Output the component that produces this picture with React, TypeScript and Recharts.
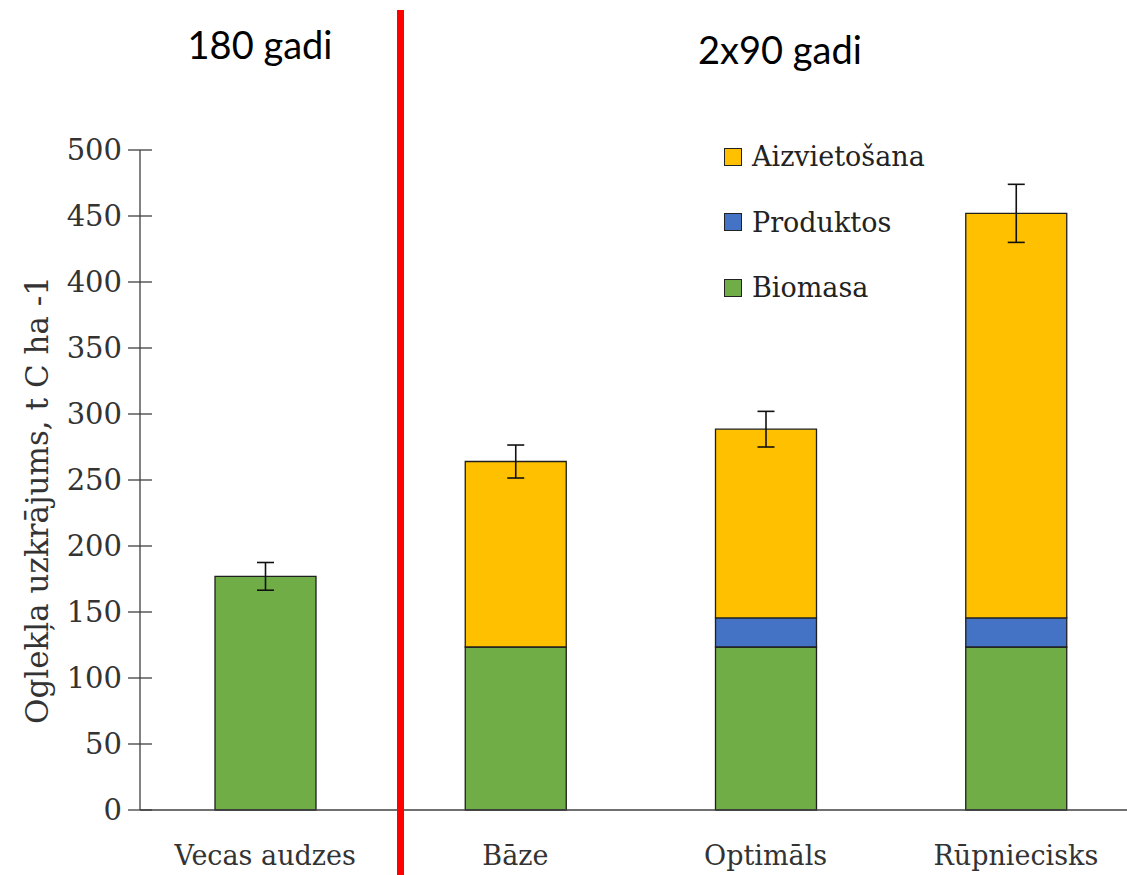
import { Bar, BarChart, ErrorBar, XAxis, YAxis } from 'recharts'

const categories = ['Vecas audzes', 'Bāze', 'Optimāls', 'Rūpniecisks']
const biomasa = [177, 123.5, 123.5, 123.5]
const produktos = [0, 0, 22, 22]
const aizvietosana = [0, 140.5, 143, 306.5]
// error bars: the first bar has only biomass, the rest end at aizvietošana
const biomasaKluda = [10.5, null, null, null]
const aizvKluda = [null, 12.5, 13.5, 22]
const yTicks = [0, 50, 100, 150, 200, 250, 300, 350, 400, 450, 500]

const series = [
  { key: 'aizvietosana', name: 'Aizvietošana', color: '#FFC000' },
  { key: 'produktos', name: 'Produktos', color: '#4472C4' },
  { key: 'biomasa', name: 'Biomasa', color: '#70AD47' },
]

const data = categories.map((name, i) => ({
  name,
  biomasa: biomasa[i],
  produktos: produktos[i],
  aizvietosana: aizvietosana[i],
  biomasaKluda: biomasaKluda[i],
  aizvKluda: aizvKluda[i],
}))

const SERIF = '"DejaVu Serif", serif'
const AXIS = '#404040'
const EDGE = '#1f1f1f'

function YTick(props: any) {
  const { x, y, payload } = props
  return (
    <g>
      <line x1={x - 12} x2={x + 12} y1={y} y2={y} stroke={AXIS} strokeWidth={1.3} />
      <text
        x={x - 18}
        y={y}
        dy="0.36em"
        textAnchor="end"
        fontFamily={SERIF}
        fontSize={29}
        fill="#333"
      >
        {payload.value}
      </text>
    </g>
  )
}

function colorOf(key: string) {
  return series.find((s) => s.key === key)!.color
}

export default function App() {
  return (
    <div
      style={{
        position: 'absolute',
        left: 0,
        top: 0,
        width: 1127,
        height: 875,
        overflow: 'hidden',
        background: '#fff',
      }}
    >
      <BarChart
        width={1141}
        height={875}
        data={data}
        margin={{ top: 150, right: 0, bottom: 0, left: 0 }}
        barSize={101}
      >
        <XAxis
          dataKey="name"
          height={65}
          tickLine={false}
          tickSize={0}
          tickMargin={36}
          axisLine={{ stroke: AXIS, strokeWidth: 1.3 }}
          tick={{ fontFamily: SERIF, fontSize: 27, fill: '#333' }}
        />
        <YAxis
          width={140}
          domain={[0, 500]}
          ticks={yTicks}
          interval={0}
          tickLine={false}
          tickSize={0}
          tickMargin={0}
          axisLine={{ stroke: AXIS, strokeWidth: 1.3 }}
          tick={<YTick />}
          label={() => (
            <text
              x={37}
              y={500}
              transform="rotate(-90 37 500)"
              textAnchor="middle"
              dominantBaseline="central"
              fontFamily={SERIF}
              fontSize={31}
              fill="#333"
            >
              Oglekļa uzkrājums, t C ha -1
            </text>
          )}
        />
        <Bar
          dataKey="biomasa"
          name="Biomasa"
          stackId="a"
          fill={colorOf('biomasa')}
          stroke={EDGE}
          strokeWidth={1.3}
          isAnimationActive={false}
        >
          <ErrorBar
            dataKey="biomasaKluda"
            width={8.5}
            stroke="#111"
            strokeWidth={1.6}
            isAnimationActive={false}
          />
        </Bar>
        <Bar
          dataKey="produktos"
          name="Produktos"
          stackId="a"
          fill={colorOf('produktos')}
          stroke={EDGE}
          strokeWidth={1.3}
          isAnimationActive={false}
        />
        <Bar
          dataKey="aizvietosana"
          name="Aizvietošana"
          stackId="a"
          fill={colorOf('aizvietosana')}
          stroke={EDGE}
          strokeWidth={1.3}
          isAnimationActive={false}
        >
          <ErrorBar
            dataKey="aizvKluda"
            width={8.5}
            stroke="#111"
            strokeWidth={1.6}
            isAnimationActive={false}
          />
        </Bar>
      </BarChart>

      {/* legend, same order as the reference */}
      <div
        style={{
          position: 'absolute',
          left: 724,
          top: 124,
          fontFamily: SERIF,
          fontSize: 27,
          color: '#222',
        }}
      >
        {series.map((s) => (
          <div
            key={s.key}
            style={{ display: 'flex', alignItems: 'center', height: 65.5 }}
          >
            <span
              style={{
                display: 'inline-block',
                width: 16,
                height: 16,
                background: s.color,
                border: '1.2px solid #222',
                marginRight: 10,
              }}
            />
            {s.name}
          </div>
        ))}
      </div>

      <div
        style={{
          position: 'absolute',
          left: 397,
          top: 10,
          width: 7,
          height: 865,
          background: '#ff0000',
        }}
      />
      <div
        style={{
          position: 'absolute',
          left: 160,
          top: 22,
          width: 200,
          textAlign: 'center',
          fontFamily: 'Lato, sans-serif',
          fontSize: 38,
          lineHeight: '44px',
          color: '#000',
        }}
      >
        180 gadi
      </div>
      <div
        style={{
          position: 'absolute',
          left: 630,
          top: 27,
          width: 300,
          textAlign: 'center',
          fontFamily: 'Lato, sans-serif',
          fontSize: 38,
          lineHeight: '44px',
          color: '#000',
        }}
      >
        2x90 gadi
      </div>
    </div>
  )
}
